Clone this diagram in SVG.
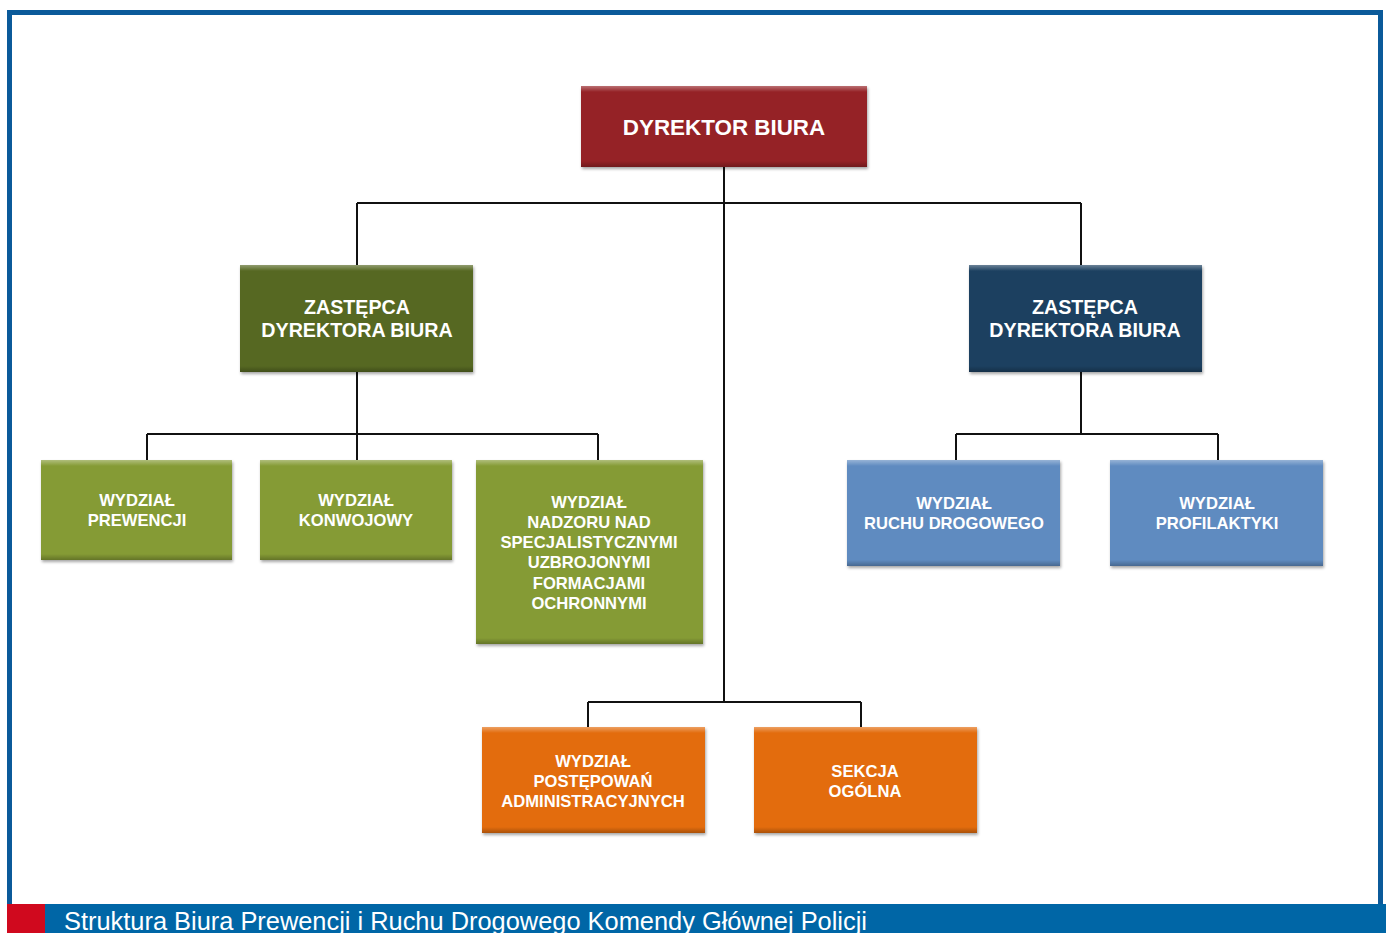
<svg xmlns="http://www.w3.org/2000/svg" width="1386" height="933" viewBox="0 0 1386 933">
<style>
.t0{font-family:"Liberation Sans",Arial,sans-serif;font-weight:bold;font-size:22.4px;fill:#fff;text-anchor:middle}
.t1{font-family:"Liberation Sans",Arial,sans-serif;font-weight:bold;font-size:19.7px;fill:#fff;text-anchor:middle}
.t2{font-family:"Liberation Sans",Arial,sans-serif;font-weight:bold;font-size:16.6px;fill:#fff;text-anchor:middle}
.c{stroke:#111;stroke-width:2;fill:none}
.hl{fill:url(#hl)}
.bot{fill:url(#sh)}
</style>
<defs>
<linearGradient id="hl" x1="0" y1="0" x2="0" y2="1">
<stop offset="0" stop-color="#fff" stop-opacity="0.35"/>
<stop offset="1" stop-color="#fff" stop-opacity="0"/>
</linearGradient>
<linearGradient id="sh" x1="0" y1="0" x2="0" y2="1">
<stop offset="0" stop-color="#000" stop-opacity="0"/>
<stop offset="1" stop-color="#000" stop-opacity="0.25"/>
</linearGradient>
<filter id="ds" x="-10%" y="-10%" width="120%" height="130%">
<feDropShadow dx="1" dy="2" stdDeviation="1.5" flood-color="#000" flood-opacity="0.35"/>
</filter>
</defs>
<rect x="0" y="0" width="1386" height="933" fill="#fff"/>
<rect x="9.5" y="12.5" width="1371" height="900" fill="none" stroke="#0B5A9A" stroke-width="5"/>
<rect x="7" y="904" width="1379" height="29" fill="#0066A6"/>
<rect x="7" y="904" width="38" height="29" fill="#D0091E"/>
<text x="64" y="930" font-family="'Liberation Sans',Arial,sans-serif" font-size="25.4" fill="#fff">Struktura Biura Prewencji i Ruchu Drogowego Komendy Głównej Policji</text>

<g id="connectors">
<path class="c" d="M724 167V702M357 203H1081M357 203V265M1081 203V265"/>
<path class="c" d="M357 372V460M147 434H598M147 434V460M598 434V460"/>
<path class="c" d="M1081 372V434M956 434H1218M956 434V460M1218 434V460"/>
<path class="c" d="M588 702H861M588 702V727M861 702V727"/>
</g>

<g id="dyrektor">
<rect x="581" y="86" width="286" height="81" fill="#952326" filter="url(#ds)"/>
<rect x="581" y="86" width="286" height="6" class="hl"/>
<rect x="581" y="161" width="286" height="6" class="bot"/>
<text class="t0" x="724" y="135">DYREKTOR BIURA</text>
</g>

<g id="zastepca-lewy">
<rect x="240" y="265" width="233" height="107" fill="#566824" filter="url(#ds)"/>
<rect x="240" y="265" width="233" height="6" class="hl"/>
<rect x="240" y="366" width="233" height="6" class="bot"/>
<text class="t1" x="357" y="314">ZASTĘPCA</text>
<text class="t1" x="357" y="337">DYREKTORA BIURA</text>
</g>

<g id="zastepca-prawy">
<rect x="969" y="265" width="233" height="107" fill="#1F3F60" filter="url(#ds)"/>
<rect x="969" y="265" width="233" height="6" class="hl"/>
<rect x="969" y="366" width="233" height="6" class="bot"/>
<text class="t1" x="1085" y="314">ZASTĘPCA</text>
<text class="t1" x="1085" y="337">DYREKTORA BIURA</text>
</g>

<g id="prewencji">
<rect x="41" y="460" width="191" height="100" fill="#859B35" filter="url(#ds)"/>
<rect x="41" y="460" width="191" height="6" class="hl"/>
<rect x="41" y="554" width="191" height="6" class="bot"/>
<text class="t2" x="137" y="506">WYDZIAŁ</text>
<text class="t2" x="137" y="526">PREWENCJI</text>
</g>

<g id="konwojowy">
<rect x="260" y="460" width="192" height="100" fill="#859B35" filter="url(#ds)"/>
<rect x="260" y="460" width="192" height="6" class="hl"/>
<rect x="260" y="554" width="192" height="6" class="bot"/>
<text class="t2" x="356" y="506">WYDZIAŁ</text>
<text class="t2" x="356" y="526">KONWOJOWY</text>
</g>

<g id="nadzoru">
<rect x="476" y="460" width="227" height="184" fill="#859B35" filter="url(#ds)"/>
<rect x="476" y="460" width="227" height="6" class="hl"/>
<rect x="476" y="638" width="227" height="6" class="bot"/>
<text class="t2" x="589" y="508">WYDZIAŁ</text>
<text class="t2" x="589" y="528">NADZORU NAD</text>
<text class="t2" x="589" y="548">SPECJALISTYCZNYMI</text>
<text class="t2" x="589" y="568">UZBROJONYMI</text>
<text class="t2" x="589" y="589">FORMACJAMI</text>
<text class="t2" x="589" y="609">OCHRONNYMI</text>
</g>

<g id="ruchu">
<rect x="847" y="460" width="213" height="106" fill="#5F8BC0" filter="url(#ds)"/>
<rect x="847" y="460" width="213" height="6" class="hl"/>
<rect x="847" y="560" width="213" height="6" class="bot"/>
<text class="t2" x="954" y="509">WYDZIAŁ</text>
<text class="t2" x="954" y="529">RUCHU DROGOWEGO</text>
</g>

<g id="profilaktyki">
<rect x="1110" y="460" width="213" height="106" fill="#5F8BC0" filter="url(#ds)"/>
<rect x="1110" y="460" width="213" height="6" class="hl"/>
<rect x="1110" y="560" width="213" height="6" class="bot"/>
<text class="t2" x="1217" y="509">WYDZIAŁ</text>
<text class="t2" x="1217" y="529">PROFILAKTYKI</text>
</g>

<g id="postepowan">
<rect x="482" y="727" width="223" height="106" fill="#E36C0A" filter="url(#ds)"/>
<rect x="482" y="727" width="223" height="6" class="hl"/>
<rect x="482" y="827" width="223" height="6" class="bot"/>
<text class="t2" x="593" y="767">WYDZIAŁ</text>
<text class="t2" x="593" y="787">POSTĘPOWAŃ</text>
<text class="t2" x="593" y="807">ADMINISTRACYJNYCH</text>
</g>

<g id="sekcja">
<rect x="754" y="727" width="223" height="106" fill="#E36C0A" filter="url(#ds)"/>
<rect x="754" y="727" width="223" height="6" class="hl"/>
<rect x="754" y="827" width="223" height="6" class="bot"/>
<text class="t2" x="865" y="777">SEKCJA</text>
<text class="t2" x="865" y="797">OGÓLNA</text>
</g>
</svg>
